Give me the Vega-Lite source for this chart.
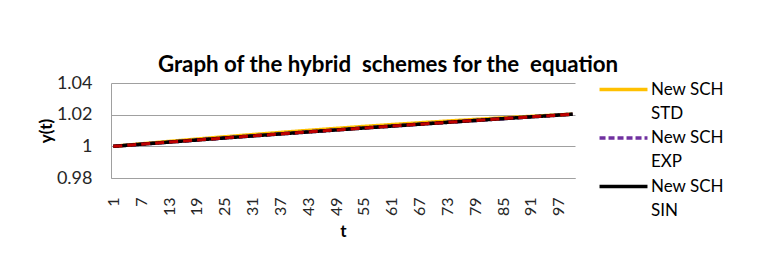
{
"$schema": "https://vega.github.io/schema/vega-lite/v6.json",
"width": 464, "height": 95,
"autosize": "none",
"padding": {"left": 111, "top": 83, "right": 186, "bottom": 99},
"background": "white",
"title": {"text": "Graph of the hybrid\u00a0 schemes for the\u00a0 equation", "font": "Lato", "fontSize": 22.3, "fontWeight": "bold", "color": "black", "anchor": "middle", "frame": "group", "dx": 45, "baseline": "alphabetic", "offset": -20},
"config": {"view": {"stroke": null}},
"data": {"values": [
{"t":1,"std":1.00000,"exp":1.00000,"sin":1.00000},
{"t":2,"std":1.00027,"exp":1.00023,"sin":1.00023},
{"t":3,"std":1.00053,"exp":1.00045,"sin":1.00045},
{"t":4,"std":1.00079,"exp":1.00067,"sin":1.00067},
{"t":5,"std":1.00105,"exp":1.00090,"sin":1.00090},
{"t":6,"std":1.00131,"exp":1.00112,"sin":1.00112},
{"t":7,"std":1.00157,"exp":1.00134,"sin":1.00134},
{"t":8,"std":1.00183,"exp":1.00157,"sin":1.00157},
{"t":9,"std":1.00209,"exp":1.00179,"sin":1.00179},
{"t":10,"std":1.00234,"exp":1.00201,"sin":1.00201},
{"t":11,"std":1.00259,"exp":1.00223,"sin":1.00223},
{"t":12,"std":1.00285,"exp":1.00245,"sin":1.00245},
{"t":13,"std":1.00310,"exp":1.00267,"sin":1.00267},
{"t":14,"std":1.00335,"exp":1.00289,"sin":1.00289},
{"t":15,"std":1.00360,"exp":1.00311,"sin":1.00311},
{"t":16,"std":1.00385,"exp":1.00333,"sin":1.00333},
{"t":17,"std":1.00409,"exp":1.00355,"sin":1.00355},
{"t":18,"std":1.00434,"exp":1.00377,"sin":1.00377},
{"t":19,"std":1.00458,"exp":1.00399,"sin":1.00399},
{"t":20,"std":1.00483,"exp":1.00421,"sin":1.00421},
{"t":21,"std":1.00507,"exp":1.00442,"sin":1.00442},
{"t":22,"std":1.00531,"exp":1.00464,"sin":1.00464},
{"t":23,"std":1.00555,"exp":1.00486,"sin":1.00486},
{"t":24,"std":1.00579,"exp":1.00507,"sin":1.00507},
{"t":25,"std":1.00602,"exp":1.00529,"sin":1.00529},
{"t":26,"std":1.00626,"exp":1.00550,"sin":1.00550},
{"t":27,"std":1.00649,"exp":1.00572,"sin":1.00572},
{"t":28,"std":1.00673,"exp":1.00593,"sin":1.00593},
{"t":29,"std":1.00696,"exp":1.00615,"sin":1.00615},
{"t":30,"std":1.00719,"exp":1.00636,"sin":1.00636},
{"t":31,"std":1.00742,"exp":1.00657,"sin":1.00657},
{"t":32,"std":1.00765,"exp":1.00679,"sin":1.00679},
{"t":33,"std":1.00787,"exp":1.00700,"sin":1.00700},
{"t":34,"std":1.00810,"exp":1.00721,"sin":1.00721},
{"t":35,"std":1.00832,"exp":1.00742,"sin":1.00742},
{"t":36,"std":1.00855,"exp":1.00763,"sin":1.00763},
{"t":37,"std":1.00877,"exp":1.00784,"sin":1.00784},
{"t":38,"std":1.00899,"exp":1.00805,"sin":1.00805},
{"t":39,"std":1.00921,"exp":1.00826,"sin":1.00826},
{"t":40,"std":1.00943,"exp":1.00847,"sin":1.00847},
{"t":41,"std":1.00964,"exp":1.00868,"sin":1.00868},
{"t":42,"std":1.00986,"exp":1.00889,"sin":1.00889},
{"t":43,"std":1.01008,"exp":1.00910,"sin":1.00910},
{"t":44,"std":1.01029,"exp":1.00931,"sin":1.00931},
{"t":45,"std":1.01050,"exp":1.00951,"sin":1.00951},
{"t":46,"std":1.01071,"exp":1.00972,"sin":1.00972},
{"t":47,"std":1.01092,"exp":1.00993,"sin":1.00993},
{"t":48,"std":1.01113,"exp":1.01013,"sin":1.01013},
{"t":49,"std":1.01134,"exp":1.01034,"sin":1.01034},
{"t":50,"std":1.01155,"exp":1.01055,"sin":1.01055},
{"t":51,"std":1.01175,"exp":1.01075,"sin":1.01075},
{"t":52,"std":1.01195,"exp":1.01095,"sin":1.01095},
{"t":53,"std":1.01216,"exp":1.01116,"sin":1.01116},
{"t":54,"std":1.01235,"exp":1.01136,"sin":1.01136},
{"t":55,"std":1.01256,"exp":1.01157,"sin":1.01157},
{"t":56,"std":1.01276,"exp":1.01177,"sin":1.01177},
{"t":57,"std":1.01296,"exp":1.01197,"sin":1.01197},
{"t":58,"std":1.01315,"exp":1.01217,"sin":1.01217},
{"t":59,"std":1.01335,"exp":1.01238,"sin":1.01238},
{"t":60,"std":1.01354,"exp":1.01258,"sin":1.01258},
{"t":61,"std":1.01373,"exp":1.01278,"sin":1.01278},
{"t":62,"std":1.01393,"exp":1.01298,"sin":1.01298},
{"t":63,"std":1.01411,"exp":1.01318,"sin":1.01318},
{"t":64,"std":1.01430,"exp":1.01338,"sin":1.01338},
{"t":65,"std":1.01449,"exp":1.01358,"sin":1.01358},
{"t":66,"std":1.01468,"exp":1.01378,"sin":1.01378},
{"t":67,"std":1.01486,"exp":1.01397,"sin":1.01397},
{"t":68,"std":1.01505,"exp":1.01417,"sin":1.01417},
{"t":69,"std":1.01523,"exp":1.01437,"sin":1.01437},
{"t":70,"std":1.01541,"exp":1.01457,"sin":1.01457},
{"t":71,"std":1.01559,"exp":1.01476,"sin":1.01476},
{"t":72,"std":1.01577,"exp":1.01496,"sin":1.01496},
{"t":73,"std":1.01595,"exp":1.01516,"sin":1.01516},
{"t":74,"std":1.01613,"exp":1.01535,"sin":1.01535},
{"t":75,"std":1.01630,"exp":1.01555,"sin":1.01555},
{"t":76,"std":1.01648,"exp":1.01574,"sin":1.01574},
{"t":77,"std":1.01665,"exp":1.01594,"sin":1.01594},
{"t":78,"std":1.01682,"exp":1.01613,"sin":1.01613},
{"t":79,"std":1.01699,"exp":1.01632,"sin":1.01632},
{"t":80,"std":1.01716,"exp":1.01652,"sin":1.01652},
{"t":81,"std":1.01733,"exp":1.01671,"sin":1.01671},
{"t":82,"std":1.01750,"exp":1.01690,"sin":1.01690},
{"t":83,"std":1.01766,"exp":1.01709,"sin":1.01709},
{"t":84,"std":1.01783,"exp":1.01729,"sin":1.01729},
{"t":85,"std":1.01799,"exp":1.01748,"sin":1.01748},
{"t":86,"std":1.01816,"exp":1.01767,"sin":1.01767},
{"t":87,"std":1.01832,"exp":1.01786,"sin":1.01786},
{"t":88,"std":1.01848,"exp":1.01805,"sin":1.01805},
{"t":89,"std":1.01863,"exp":1.01824,"sin":1.01824},
{"t":90,"std":1.01879,"exp":1.01843,"sin":1.01843},
{"t":91,"std":1.01894,"exp":1.01862,"sin":1.01862},
{"t":92,"std":1.01910,"exp":1.01880,"sin":1.01880},
{"t":93,"std":1.01925,"exp":1.01899,"sin":1.01899},
{"t":94,"std":1.01941,"exp":1.01918,"sin":1.01918},
{"t":95,"std":1.01956,"exp":1.01937,"sin":1.01937},
{"t":96,"std":1.01971,"exp":1.01955,"sin":1.01955},
{"t":97,"std":1.01986,"exp":1.01974,"sin":1.01974},
{"t":98,"std":1.02001,"exp":1.01993,"sin":1.01993},
{"t":99,"std":1.02015,"exp":1.02011,"sin":1.02011},
{"t":100,"std":1.02030,"exp":1.02030,"sin":1.02030}
]},
"transform": [{"fold": ["std", "exp", "sin"], "as": ["series", "y"]}],
"encoding": {
"x": {"field": "t", "type": "ordinal", "axis": {"values": [1,7,13,19,25,31,37,43,49,55,61,67,73,79,85,91,97], "labelAngle": -90, "labelAlign": "right", "labelBaseline": "middle", "labelFont": "Lato", "labelFontSize": 16, "labelColor": "#262626", "labelPadding": 19, "labelOverlap": false, "ticks": false, "domainColor": "#A0A0A0", "domainWidth": 1, "grid": false, "title": "t", "titleFont": "Lato", "titleFontSize": 17, "titleFontWeight": "bold", "titleColor": "black", "titlePadding": 8}},
"y": {"field": "y", "type": "quantitative", "scale": {"domain": [0.98, 1.04], "nice": false, "zero": false}, "axis": {"values": [0.98, 1, 1.02, 1.04], "format": ".2~f", "labelFont": "Lato", "labelFontSize": 18, "labelColor": "#262626", "labelPadding": 19, "labelOverlap": false, "labelFlush": false, "ticks": false, "domainColor": "#A0A0A0", "domainWidth": 1, "grid": true, "gridColor": "#A0A0A0", "gridWidth": 1, "gridOpacity": 1, "title": "y(t)", "titleFont": "Lato", "titleFontSize": 17, "titleFontWeight": "bold", "titleColor": "black", "titlePadding": 1}}
},
"layer": [
{
"mark": {"type": "line", "strokeWidth": 3.5},
"encoding": {
"color": {"field": "series", "type": "nominal", "scale": {"domain": ["std", "exp", "sin"], "range": ["#FFC000", "#7030A0", "#000000"]}, "legend": {"title": null, "orient": "none", "legendX": 487, "legendY": -2, "padding": 0, "symbolType": "M-5,0H5", "symbolSize": 92, "symbolStrokeWidth": 3.5, "symbolOffset": 17, "labelFont": "Lato", "labelFontSize": 17, "labelColor": "black", "labelOffset": 19, "labelExpr": "['New SCH', upper(datum.label)]", "rowPadding": 6.5, "encode": {"labels": {"update": {"lineHeight": {"value": 24}}}}}},
"strokeDash": {"field": "series", "type": "nominal", "scale": {"domain": ["std", "exp", "sin"], "range": [[1, 0], [6, 3], [1, 0]]}, "legend": {"title": null, "orient": "none", "legendX": 487, "legendY": -2, "padding": 0, "symbolType": "M-5,0H5", "symbolSize": 92, "symbolStrokeWidth": 3.5, "symbolOffset": 17, "labelFont": "Lato", "labelFontSize": 17, "labelColor": "black", "labelOffset": 19, "labelExpr": "['New SCH', upper(datum.label)]", "rowPadding": 6.5, "encode": {"labels": {"update": {"lineHeight": {"value": 24}}}}}}
}
},
{
"transform": [{"filter": "datum.series == 'sin'"}],
"mark": {"type": "line", "color": "#C00000", "strokeWidth": 3, "strokeDash": [9, 5]}
}
]
}
